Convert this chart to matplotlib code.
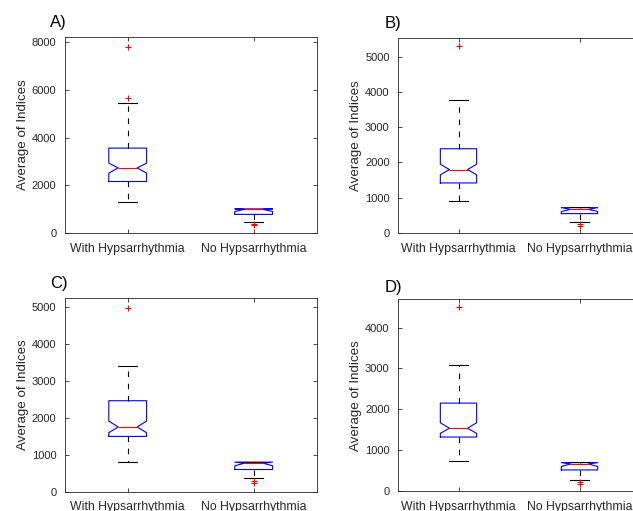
import matplotlib
matplotlib.use("Agg")
import matplotlib.pyplot as plt

plt.rcParams['font.family'] = ['Liberation Sans', 'DejaVu Sans']

groups = ["With Hypsarrhythmia", "No Hypsarrhythmia"]
panels = ["A)", "B)", "C)", "D)"]

# per panel: [with, no]  -> whislo, q1, med, q3, whishi, cilo, cihi, fliers
A_with = [1310, 2160, 2730, 3560, 5440, 2510, 2930, [5650, 7820]]
A_no = [460, 780, 990, 1010, 1020, 900, 1010, [330, 360]]
B_with = [900, 1420, 1800, 2390, 3770, 1650, 1950, [5300]]
B_no = [310, 550, 670, 720, 730, 610, 720, [190, 250]]
C_with = [790, 1495, 1750, 2460, 3390, 1595, 1910, [4970]]
C_no = [360, 600, 770, 800, 810, 700, 800, [225, 290]]
D_with = [740, 1320, 1535, 2150, 3085, 1410, 1670, [4490]]
D_no = [260, 515, 660, 695, 720, 600, 695, [180, 230]]

data = [[A_with, A_no], [B_with, B_no], [C_with, C_no], [D_with, D_no]]
ylims = [8220, 5540, 5230, 4690]
yticks = [range(0, 8001, 2000), range(0, 5001, 1000),
          range(0, 5001, 1000), range(0, 4001, 1000)]

W, H = 633, 511
# left, top, right, bottom in pixels
boxes_px = [(64.7, 37, 316.7, 233), (398, 37.7, 640, 233),
            (64.7, 298.3, 316.7, 491.7), (398, 299.3, 640, 491)]
title_px = [(50, 22), (384.5, 23.5), (50, 283.5), (384.5, 287.5)]

fig = plt.figure(figsize=(W / 100, H / 100), dpi=100)
axc = '#262626'

for i, (l, t, r, b) in enumerate(boxes_px):
    ax = fig.add_axes([l / W, 1 - b / H, (r - l) / W, (b - t) / H])
    stats = []
    for g, d in zip(groups, data[i]):
        stats.append(dict(whislo=d[0], q1=d[1], med=d[2], q3=d[3], whishi=d[4],
                          cilo=d[5], cihi=d[6], fliers=d[7], label=g))
    ax.bxp(stats, positions=[1, 2], widths=0.3, shownotches=True,
           boxprops=dict(color='blue', lw=0.8),
           medianprops=dict(color='red', lw=0.8),
           whiskerprops=dict(color='black', lw=0.8, ls=(0, (5, 6))),
           capprops=dict(color='black', lw=0.8),
           flierprops=dict(marker='+', markeredgecolor='red', markersize=5, mew=0.8))
    ax.set_xlim(0.5, 2.5)
    ax.set_ylim(0, ylims[i])
    ax.set_yticks(list(yticks[i]))
    ax.set_xticks([1, 2])
    ax.set_xticklabels(groups)
    ax.tick_params(direction='in', top=True, right=True, colors=axc,
                   length=3, width=0.6)
    ax.tick_params(axis='y', labelsize=8, pad=6)
    ax.tick_params(axis='x', labelsize=8.8, pad=7)
    for s in ax.spines.values():
        s.set_color(axc)
        s.set_linewidth(0.6)
    ax.set_ylabel("Average of Indices", fontsize=9.6, color=axc, va='center')
    ax.yaxis.set_label_coords(-42 / (r - l), 0.5)
    tx, ty = title_px[i]
    fig.text(tx / W, 1 - ty / H, panels[i], fontsize=12,
             ha='left', va='center', color='black')

fig.savefig("out.png", dpi=100)
